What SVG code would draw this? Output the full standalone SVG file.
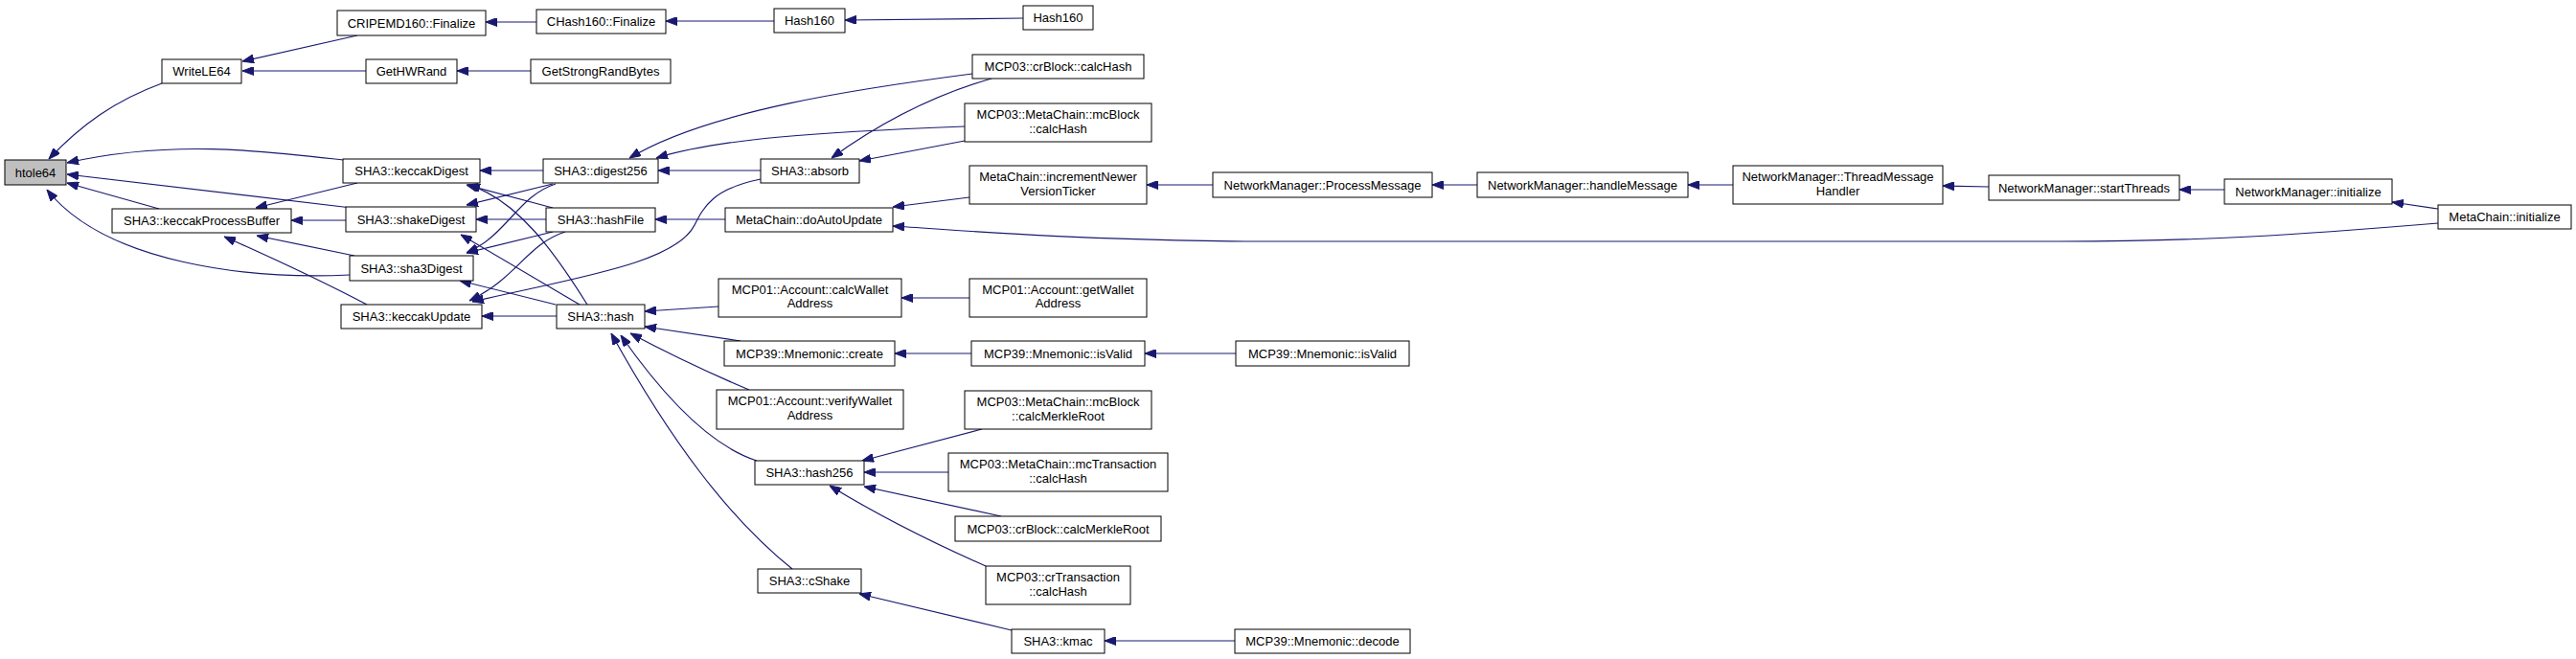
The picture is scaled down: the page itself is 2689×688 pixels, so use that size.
<svg xmlns="http://www.w3.org/2000/svg" width="2689" height="688" viewBox="0 0 2689 688">
<style>
.n rect{fill:#ffffff;stroke:#000000;stroke-width:1}
.n.g rect{fill:#bfbfbf}
.n text{font-family:"Liberation Sans",Arial,sans-serif;font-size:13px;fill:#000000;text-anchor:middle}
#edges path{fill:none;stroke:#191970;stroke-width:1.2;marker-end:url(#ah)}
</style>
<defs>
<marker id="ah" viewBox="0 0 12 9" refX="12" refY="4.5" markerWidth="12" markerHeight="9" markerUnits="userSpaceOnUse" orient="auto">
<path d="M0,0 L12,4.5 L0,9 Z" fill="#191970" stroke="#191970" stroke-width="1"/>
</marker>
</defs>
<rect x="0" y="0" width="2689" height="688" fill="#ffffff"/>
<g id="edges">
<path d="M169,87 C120,105 85,130 51,166"/>
<path d="M358,167 C280,158 180,145 70,170"/>
<path d="M367,217 L70,182"/>
<path d="M166,218 L70,191"/>
<path d="M365,287 C260,292 110,275 49,198"/>
<path d="M373,37 L253,64"/>
<path d="M382,74 L253,74"/>
<path d="M560,23 L507,23"/>
<path d="M808,22 L695,22"/>
<path d="M1068,19 L882,21"/>
<path d="M554,74 L477,74"/>
<path d="M373,191 L267,217"/>
<path d="M361,230 L304,230"/>
<path d="M370,267 L268,246"/>
<path d="M383,318 Q320,285 234,247"/>
<path d="M567,178 L501,178"/>
<path d="M577,217 L487,193"/>
<path d="M613,318 C580,265 540,208 489,193"/>
<path d="M577,192 L487,214"/>
<path d="M570,229 L497,229"/>
<path d="M605,318 L481,245"/>
<path d="M580,192 C540,205 530,245 487,264"/>
<path d="M577,242 L487,264"/>
<path d="M580,318 L480,293"/>
<path d="M590,242 C550,255 540,290 490,314"/>
<path d="M794,187 C745,197 735,215 725,235 C705,275 600,290 493,315"/>
<path d="M581,330 L503,330"/>
<path d="M794,178 L687,178"/>
<path d="M1015,77 C900,92 740,115 657,165"/>
<path d="M1007,132 C850,138 750,145 685,165"/>
<path d="M1035,82 C990,95 930,120 868,165"/>
<path d="M1007,147 L897,168"/>
<path d="M757,229 L684,229"/>
<path d="M1012,206 L932,216"/>
<path d="M2545,233 C2400,245 2300,252 2150,252 L1300,252 C1100,250 1000,240 932,236"/>
<path d="M1266,193 L1197,193"/>
<path d="M1542,193 L1495,193"/>
<path d="M1809,193 L1762,193"/>
<path d="M2076,195 L2028,194"/>
<path d="M2322,198 L2275,198"/>
<path d="M2545,218 L2497,211"/>
<path d="M750,320 L673,325"/>
<path d="M773,356 L673,341"/>
<path d="M782,407 C730,385 690,365 658,348"/>
<path d="M790,481 C740,465 690,410 648,350"/>
<path d="M827,594 C760,540 700,460 638,348"/>
<path d="M1012,311 L941,311"/>
<path d="M1014,369 L934,369"/>
<path d="M1290,369 L1195,369"/>
<path d="M1025,448 L900,481"/>
<path d="M990,493 L902,493"/>
<path d="M1045,539 L902,508"/>
<path d="M1029,591 C970,565 920,540 866,507"/>
<path d="M1056,658 L897,620"/>
<path d="M1289,669 L1153,669"/>
</g>
<g id="n1" class="n g"><rect x="5" y="167" width="64" height="26"/><text x="37" y="184.5">htole64</text></g>
<g id="n2" class="n"><rect x="169" y="62" width="83" height="25"/><text x="210.5" y="79">WriteLE64</text></g>
<g id="n3" class="n"><rect x="352" y="11" width="155" height="26"/><text x="429.5" y="28.5">CRIPEMD160::Finalize</text></g>
<g id="n4" class="n"><rect x="560" y="10" width="135" height="25"/><text x="627.5" y="27">CHash160::Finalize</text></g>
<g id="n5" class="n"><rect x="808" y="9" width="74" height="25"/><text x="845" y="26">Hash160</text></g>
<g id="n6" class="n"><rect x="1068" y="6" width="73" height="25"/><text x="1104.5" y="23">Hash160</text></g>
<g id="n7" class="n"><rect x="382" y="62" width="95" height="25"/><text x="429.5" y="79">GetHWRand</text></g>
<g id="n8" class="n"><rect x="554" y="62" width="146" height="25"/><text x="627" y="79">GetStrongRandBytes</text></g>
<g id="n9" class="n"><rect x="358" y="166" width="143" height="25"/><text x="429.5" y="183">SHA3::keccakDigest</text></g>
<g id="n10" class="n"><rect x="117" y="218" width="187" height="25"/><text x="210.5" y="235">SHA3::keccakProcessBuffer</text></g>
<g id="n11" class="n"><rect x="361" y="216" width="136" height="26"/><text x="429" y="233.5">SHA3::shakeDigest</text></g>
<g id="n12" class="n"><rect x="365" y="267" width="129" height="26"/><text x="429.5" y="284.5">SHA3::sha3Digest</text></g>
<g id="n13" class="n"><rect x="356" y="318" width="147" height="25"/><text x="429.5" y="335">SHA3::keccakUpdate</text></g>
<g id="n14" class="n"><rect x="567" y="166" width="120" height="25"/><text x="627" y="183">SHA3::digest256</text></g>
<g id="n15" class="n"><rect x="794" y="166" width="103" height="25"/><text x="845.5" y="183">SHA3::absorb</text></g>
<g id="n16" class="n"><rect x="570" y="217" width="114" height="25"/><text x="627" y="234">SHA3::hashFile</text></g>
<g id="n17" class="n"><rect x="757" y="217" width="175" height="25"/><text x="844.5" y="234">MetaChain::doAutoUpdate</text></g>
<g id="n18" class="n"><rect x="750" y="291" width="191" height="40"/><text x="845.5" y="307">MCP01::Account::calcWallet</text><text x="845.5" y="321">Address</text></g>
<g id="n19" class="n"><rect x="581" y="318" width="92" height="25"/><text x="627" y="335">SHA3::hash</text></g>
<g id="n20" class="n"><rect x="1015" y="57" width="179" height="25"/><text x="1104.5" y="74">MCP03::crBlock::calcHash</text></g>
<g id="n21" class="n"><rect x="1007" y="108" width="195" height="40"/><text x="1104.5" y="124">MCP03::MetaChain::mcBlock</text><text x="1104.5" y="138.5">::calcHash</text></g>
<g id="n22" class="n"><rect x="1012" y="173" width="185" height="40"/><text x="1104.5" y="189">MetaChain::incrementNewer</text><text x="1104.5" y="203.5">VersionTicker</text></g>
<g id="n23" class="n"><rect x="1266" y="180" width="229" height="26"/><text x="1380.5" y="197.5">NetworkManager::ProcessMessage</text></g>
<g id="n24" class="n"><rect x="1012" y="291" width="185" height="40"/><text x="1104.5" y="307">MCP01::Account::getWallet</text><text x="1104.5" y="321">Address</text></g>
<g id="n25" class="n"><rect x="1542" y="180" width="220" height="26"/><text x="1652" y="197.5">NetworkManager::handleMessage</text></g>
<g id="n26" class="n"><rect x="1809" y="173" width="219" height="40"/><text x="1918.5" y="189">NetworkManager::ThreadMessage</text><text x="1918.5" y="203.5">Handler</text></g>
<g id="n27" class="n"><rect x="2076" y="183" width="199" height="26"/><text x="2175.5" y="200.5">NetworkManager::startThreads</text></g>
<g id="n28" class="n"><rect x="2322" y="187" width="175" height="26"/><text x="2409.5" y="204.5">NetworkManager::initialize</text></g>
<g id="n29" class="n"><rect x="2545" y="214" width="139" height="25"/><text x="2614.5" y="231">MetaChain::initialize</text></g>
<g id="n30" class="n"><rect x="756" y="356" width="178" height="26"/><text x="845" y="373.5">MCP39::Mnemonic::create</text></g>
<g id="n31" class="n"><rect x="748" y="407" width="195" height="41"/><text x="845.5" y="423">MCP01::Account::verifyWallet</text><text x="845.5" y="438">Address</text></g>
<g id="n32" class="n"><rect x="788" y="481" width="114" height="25"/><text x="845" y="498">SHA3::hash256</text></g>
<g id="n33" class="n"><rect x="791" y="594" width="108" height="25"/><text x="845" y="611">SHA3::cShake</text></g>
<g id="n34" class="n"><rect x="1014" y="356" width="181" height="26"/><text x="1104.5" y="373.5">MCP39::Mnemonic::isValid</text></g>
<g id="n35" class="n"><rect x="1290" y="356" width="181" height="26"/><text x="1380.5" y="373.5">MCP39::Mnemonic::isValid</text></g>
<g id="n36" class="n"><rect x="1007" y="408" width="195" height="40"/><text x="1104.5" y="424">MCP03::MetaChain::mcBlock</text><text x="1104.5" y="438.5">::calcMerkleRoot</text></g>
<g id="n37" class="n"><rect x="990" y="473" width="229" height="40"/><text x="1104.5" y="489">MCP03::MetaChain::mcTransaction</text><text x="1104.5" y="503.5">::calcHash</text></g>
<g id="n38" class="n"><rect x="997" y="539" width="215" height="26"/><text x="1104.5" y="556.5">MCP03::crBlock::calcMerkleRoot</text></g>
<g id="n39" class="n"><rect x="1029" y="591" width="151" height="40"/><text x="1104.5" y="607">MCP03::crTransaction</text><text x="1104.5" y="621.5">::calcHash</text></g>
<g id="n40" class="n"><rect x="1056" y="657" width="97" height="25"/><text x="1104.5" y="674">SHA3::kmac</text></g>
<g id="n41" class="n"><rect x="1289" y="657" width="183" height="25"/><text x="1380.5" y="674">MCP39::Mnemonic::decode</text></g>
</svg>
